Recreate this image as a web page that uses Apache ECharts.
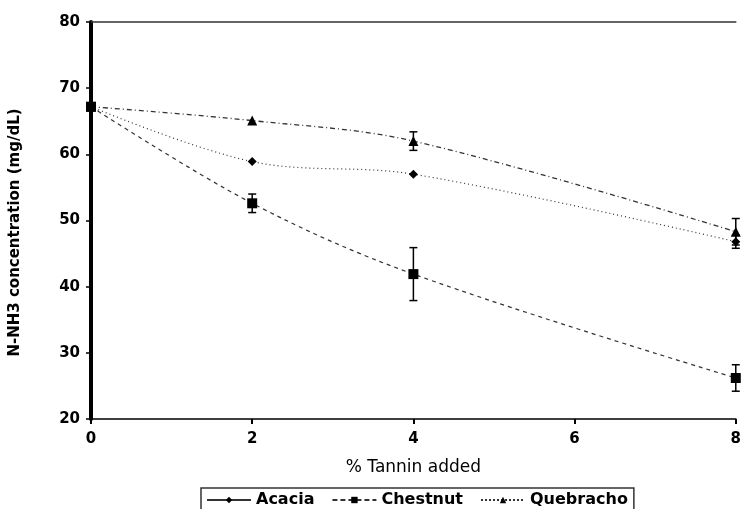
<!DOCTYPE html>
<html>
<head>
<meta charset="utf-8">
<script src="https://cdn.jsdelivr.net/npm/echarts@6/dist/echarts.min.js"></script>
<style>
  html, body { margin: 0; padding: 0; background: #fff; }
  #main { width: 744px; height: 509px; }
</style>
</head>
<body>
<div id="main"></div>
<script>
// % tannin added
var tanninLevels = [0, 2, 4, 8];
// N-NH3 concentration (mg/dL)
var acacia = [67.2, 58.9, 57.0, 46.8];
var chestnut = [67.2, 52.6, 41.9, 26.2];
var quebracho = [67.2, 65.1, 62.0, 48.3];
// error bars (+/-)
var acaciaErr = [0, 0, 0, 1.0];
var chestnutErr = [0, 1.4, 4.0, 2.0];
var quebrachoErr = [0, 0, 1.4, 2.0];

function pts(vals) {
    return tanninLevels.map(function (x, i) { return [x, vals[i]]; });
}
function errPts(vals, errs) {
    var out = [];
    tanninLevels.forEach(function (x, i) {
        if (errs[i] > 0) out.push([x, vals[i] - errs[i], vals[i] + errs[i]]);
    });
    return out;
}

//误差线
function errorBar(params, api) {
    var x = api.value(0);
    var lo = api.coord([x, api.value(1)]);
    var hi = api.coord([x, api.value(2)]);
    var w = 4;
    var st = { stroke: '#000', lineWidth: 1.5 };
    return {
        type: 'group',
        children: [
            { type: 'line', shape: { x1: lo[0], y1: lo[1], x2: hi[0], y2: hi[1] }, style: st },
            { type: 'line', shape: { x1: lo[0] - w, y1: lo[1], x2: lo[0] + w, y2: lo[1] }, style: st },
            { type: 'line', shape: { x1: hi[0] - w, y1: hi[1], x2: hi[0] + w, y2: hi[1] }, style: st }
        ]
    };
}

var fam = 'DejaVu Sans, Liberation Sans, Arial';
var labelFont = { color: '#000', fontFamily: fam, fontWeight: 'bold', fontSize: 15 };

var myChart = echarts.init(document.getElementById('main'));
var option = {
    backgroundColor: '#fff',
    animation: false,
    grid: { left: 91, right: 5, top: 22, bottom: 90 },
    legend: {
        left: 201,
        top: 488,
        orient: 'horizontal',
        itemWidth: 44,
        itemHeight: 8,
        itemGap: 17,
        padding: [4, 6, 12, 5],
        borderColor: '#333',
        borderWidth: 1.5,
        textStyle: { color: '#000', fontFamily: fam, fontWeight: 'bold', fontSize: 16 },
        data: [
            { name: 'Acacia', lineStyle: { type: 'solid', width: 2 } },
            { name: 'Chestnut', lineStyle: { type: [5, 3], width: 2 } },
            { name: 'Quebracho', lineStyle: { type: [2, 2], width: 2 } }
        ]
    },
    xAxis: [
        {
            type: 'value',
            min: 0, max: 8, interval: 2,
            name: '% Tannin added',
            nameLocation: 'middle',
            nameGap: 40,
            nameTextStyle: { color: '#000', fontFamily: fam, fontSize: 17 },
            axisLine: { show: true, lineStyle: { color: '#000', width: 1.5 } },
            axisTick: { show: true, inside: false, length: 5, lineStyle: { color: '#000', width: 2 } },
            axisLabel: Object.assign({ margin: 13 }, labelFont),
            splitLine: { show: false }
        },
        {
            type: 'value',
            position: 'top',
            min: 0, max: 8,
            axisLine: { show: true, onZero: false, lineStyle: { color: '#333', width: 1.5 } },
            axisTick: { show: false },
            axisLabel: { show: false },
            splitLine: { show: false }
        }
    ],
    yAxis: {
        type: 'value',
        min: 20, max: 80, interval: 10,
        name: 'N-NH3 concentration (mg/dL)',
        nameLocation: 'middle',
        nameGap: 68,
        nameTextStyle: { color: '#000', fontFamily: fam, fontWeight: 'bold', fontSize: 15, padding: [0, 24, 0, 0] },
        axisLine: { show: true, onZero: false, lineStyle: { color: '#000', width: 4 } },
        axisTick: { show: true, length: 5, lineStyle: { color: '#000', width: 1.5 } },
        axisLabel: Object.assign({ margin: 11 }, labelFont),
        splitLine: { show: false }
    },
    series: [
        {
            name: 'Acacia',
            type: 'line',
            smooth: 0.35,
            data: pts(acacia),
            symbol: 'diamond',
            symbolSize: 9,
            itemStyle: { color: '#000' },
            lineStyle: { color: '#333', width: 1.2, type: [1, 3] },
            z: 3
        },
        {
            name: 'Chestnut',
            type: 'line',
            smooth: 0.35,
            data: pts(chestnut),
            symbol: 'rect',
            symbolSize: 10,
            itemStyle: { color: '#000' },
            lineStyle: { color: '#333', width: 1.2, type: [4, 4] },
            z: 4
        },
        {
            name: 'Quebracho',
            type: 'line',
            smooth: 0.35,
            data: pts(quebracho),
            symbol: 'triangle',
            symbolSize: 10,
            itemStyle: { color: '#000' },
            lineStyle: { color: '#333', width: 1.3, type: [5, 3, 1, 3] },
            z: 3
        },
        {
            type: 'custom', name: 'AcaciaErr', renderItem: errorBar,
            data: errPts(acacia, acaciaErr), z: 5, silent: true
        },
        {
            type: 'custom', name: 'ChestnutErr', renderItem: errorBar,
            data: errPts(chestnut, chestnutErr), z: 5, silent: true
        },
        {
            type: 'custom', name: 'QuebrachoErr', renderItem: errorBar,
            data: errPts(quebracho, quebrachoErr), z: 5, silent: true
        }
    ]
};
myChart.setOption(option);
</script>
</body>
</html>
